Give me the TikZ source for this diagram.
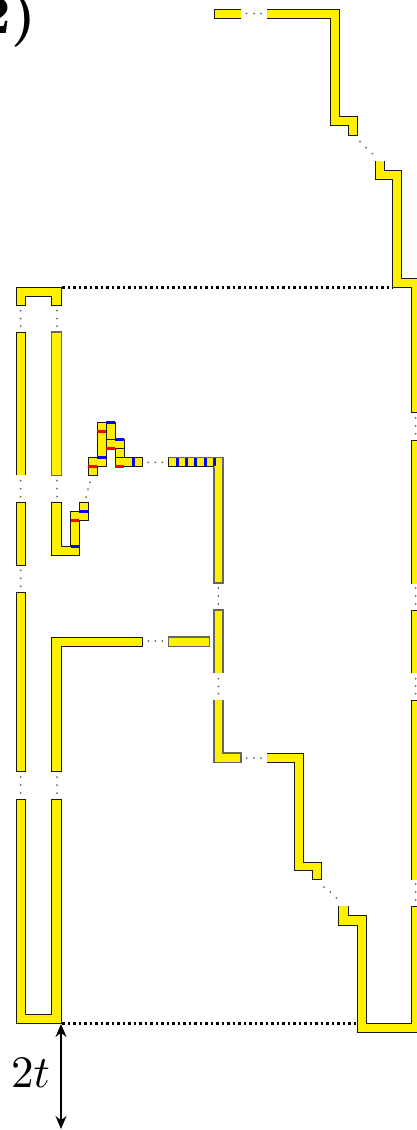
\documentclass[tikz,border=0pt]{standalone}
\usetikzlibrary{arrows.meta}
\definecolor{yel}{RGB}{255,240,0}
\tikzset{
  outl/.style={draw=black!90,line width=1.0pt,line join=miter},
  soft/.style={draw=black!60,line width=1.1pt,line join=miter},
  bmark/.style={draw=blue,line width=3pt},
  rmark/.style={draw=red,line width=3pt},
  gapdot/.style={fill=black!60,draw=none},
  longdot/.style={draw=black,line width=2.2pt,dash pattern=on 2.5pt off 3pt}
}
\newcommand{\openpiece}[1]{\fill[yel] #1 -- cycle; \draw[outl] #1;}
\newcommand{\softopen}[1]{\fill[yel] #1 -- cycle; \draw[soft] #1;}
\newcommand{\closedpiece}[1]{\draw[outl,fill=yel] #1 -- cycle;}
\newcommand{\softclosed}[1]{\draw[soft,fill=yel] #1 -- cycle;}
\newcommand{\tridots}[6]{\foreach \px/\py in {#1/#2,#3/#4,#5/#6}{\fill[gapdot] (\px,\py) circle (1pt);}}
\begin{document}
\begin{tikzpicture}[x=1pt,y=-1pt]
\clip (0,0) rectangle (417,1130);
\fill[white] (0,0) rectangle (417,1130);
% label
\node[anchor=base east,inner sep=0pt,scale=5.5] (lab) at (37,33) {\textbf{2)}};
% long dotted lines
\coordinate (ta) at (62,287.5); \coordinate (tb) at (393,287.5);
\coordinate (ba) at (62,1023.5); \coordinate (bb) at (366,1023.5);
\draw[longdot] (ta) -- (tb);
\draw[longdot] (ba) -- (bb);
% top right
\openpiece{(241,18) -- (214,18) -- (214,9) -- (241,9)}
\openpiece{(267,9) -- (339,9) -- (339,116.3) -- (357.3,116.3) -- (357.3,135) -- (348.7,135) -- (348.7,125) -- (330,125) -- (330,18) -- (267,18)}
\openpiece{(384,161) -- (384,170) -- (401.7,170) -- (401.7,278.3) -- (420,278.3) -- (420,412) -- (411,412) -- (411,287.3) -- (392.7,287.3) -- (392.7,179) -- (375.3,179) -- (375.3,161)}
% right column
\openpiece{(411,584) -- (411,440) -- (420,440) -- (420,584)}
\openpiece{(411,673) -- (411,610) -- (420,610) -- (420,673)}
\openpiece{(411,880) -- (411,700) -- (420,700) -- (420,880)}
\openpiece{(348.7,906) -- (348.7,915) -- (366.7,915) -- (366.7,1023) -- (411,1023) -- (411,906) -- (420,906) -- (420,1032) -- (357.3,1032) -- (357.3,925) -- (338.7,925) -- (338.7,906)}
% lower centre
\openpiece{(267,753) -- (303.7,753) -- (303.7,862) -- (321.3,862) -- (321.3,879.7) -- (312.3,879.7) -- (312.3,870.7) -- (294.7,870.7) -- (294.7,762) -- (267,762)}
\softopen{(214,700) -- (214,762.7) -- (241,762.7) -- (241,753) -- (223,753) -- (223,700)}
\softopen{(214,673) -- (214,610) -- (223,610) -- (223,673)}
\softclosed{(168.7,637) -- (209.3,637) -- (209.3,646.7) -- (168.7,646.7)}
% column with blue bars
\softopen{(168.3,466.7) -- (168.3,457.5) -- (223,457.5) -- (223,583) -- (214,583) -- (214,466.7)}
\draw[outl] (168.3,457.5) -- (168.3,466.7) -- (214,466.7);
\foreach \bx in {177.7,186.7,195.7,205,214}{\draw[bmark] (\bx,458) -- (\bx,466.3);}
% left U and columns
\closedpiece{(16.7,305) -- (16.7,287.3) -- (61.7,287.3) -- (61.7,305) -- (51.7,305) -- (51.7,296) -- (25.3,296) -- (25.3,305)}
\openpiece{(16.7,475.3) -- (16.7,332) -- (25.3,332) -- (25.3,475.3)}
\softclosed{(51.7,332) -- (61.7,332) -- (61.7,475.3) -- (51.7,475.3)}
\closedpiece{(16.7,502.5) -- (25.3,502.5) -- (25.3,565.7) -- (16.7,565.7)}
\closedpiece{(16.7,592) -- (25.3,592) -- (25.3,771.7) -- (16.7,771.7)}
\closedpiece{(16.7,799) -- (25.3,799) -- (25.3,1014) -- (51.7,1014) -- (51.7,799) -- (61.7,799) -- (61.7,1023.4) -- (16.7,1023.4)}
\closedpiece{(51.7,637.5) -- (142.7,637.5) -- (142.7,646.7) -- (61.7,646.7) -- (61.7,771.7) -- (51.7,771.7)}
% small hook
\closedpiece{(51.7,502.7) -- (61.7,502.7) -- (61.7,546.7) -- (70.7,546.7) -- (70.7,511.7) -- (79.3,511.7) -- (79.3,502.7) -- (88.3,502.7) -- (88.3,520.3) -- (79.3,520.3) -- (79.3,555.7) -- (51.7,555.7)}
\draw[bmark] (79.3,511.7) -- (88.3,511.7);
\draw[rmark] (70.7,520.3) -- (79.3,520.3);
\draw[bmark] (70.7,546.7) -- (79.3,546.7);
% squiggle
\closedpiece{(88.3,475.7) -- (97.3,475.7) -- (97.3,466.7) -- (106,466.7) -- (106,448.3) -- (115,448.3) -- (115,466.7) -- (142,466.7) -- (142,457.3) -- (124,457.3) -- (124,439.3) -- (115,439.3) -- (115,422) -- (97.3,422) -- (97.3,457.3) -- (88.3,457.3)}
\draw[outl] (106,422) -- (106,439.3) -- (115,439.3);
\draw[outl] (115,448.3) -- (124,448.3);
\draw[outl] (115,457.3) -- (124,457.3);
\draw[outl] (106,439.3) -- (106,448.3);
\draw[bmark] (106,422) -- (115,422);
\draw[rmark] (97.3,431) -- (106,431);
\draw[bmark] (115,439.3) -- (124,439.3);
\draw[rmark] (106,448.3) -- (115,448.3);
\draw[bmark] (97.3,457.3) -- (106,457.3);
\draw[rmark] (88.3,466.7) -- (97.3,466.7);
\draw[rmark] (115,466.7) -- (124,466.7);
\draw[bmark] (133.3,457.8) -- (133.3,466.2);
% gap dots
\tridots{20.7}{310.7}{20.7}{318.5}{20.7}{326}
\tridots{57}{310.7}{57}{318.5}{57}{326}
\tridots{20.7}{480.7}{20.7}{488.7}{20.7}{496.7}
\tridots{57}{480.7}{57}{488.7}{57}{496.7}
\tridots{20.7}{570.3}{20.7}{578.3}{20.7}{586.3}
\tridots{20.7}{777}{20.7}{785}{20.7}{793}
\tridots{57}{777}{57}{785}{57}{793}
\tridots{90}{482.3}{88}{489}{86}{497}
\tridots{148.3}{462.3}{155.3}{462.3}{162.3}{462.3}
\tridots{148.3}{641}{155.3}{641}{162.3}{641}
\tridots{218.3}{588}{218.3}{596}{218.3}{604}
\tridots{218.3}{678.7}{218.3}{686.5}{218.3}{693.7}
\tridots{246.7}{13.5}{254}{13.5}{261}{13.5}
\tridots{246.7}{758}{254}{758}{261}{758}
\tridots{360}{141.7}{366}{147.7}{372.3}{153.5}
\tridots{324}{887}{330.3}{892}{336.3}{898}
\tridots{415.7}{418}{415.7}{426}{415.7}{433.7}
\tridots{415.7}{588}{415.7}{596}{415.7}{604}
\tridots{415.7}{678.7}{415.7}{686}{415.7}{693.7}
\tridots{415.7}{884}{415.7}{892}{415.7}{900}
% dimension
\coordinate (da) at (61,1024); \coordinate (db) at (61,1129);
\draw[line width=1.5pt,{Stealth[length=13pt,width=11pt]}-{Stealth[length=13pt,width=11pt]}] (da) -- (db);
\node[scale=4.5,inner sep=0pt] (dim) at (30.5,1073) {$2t$};
\end{tikzpicture}
\end{document}
